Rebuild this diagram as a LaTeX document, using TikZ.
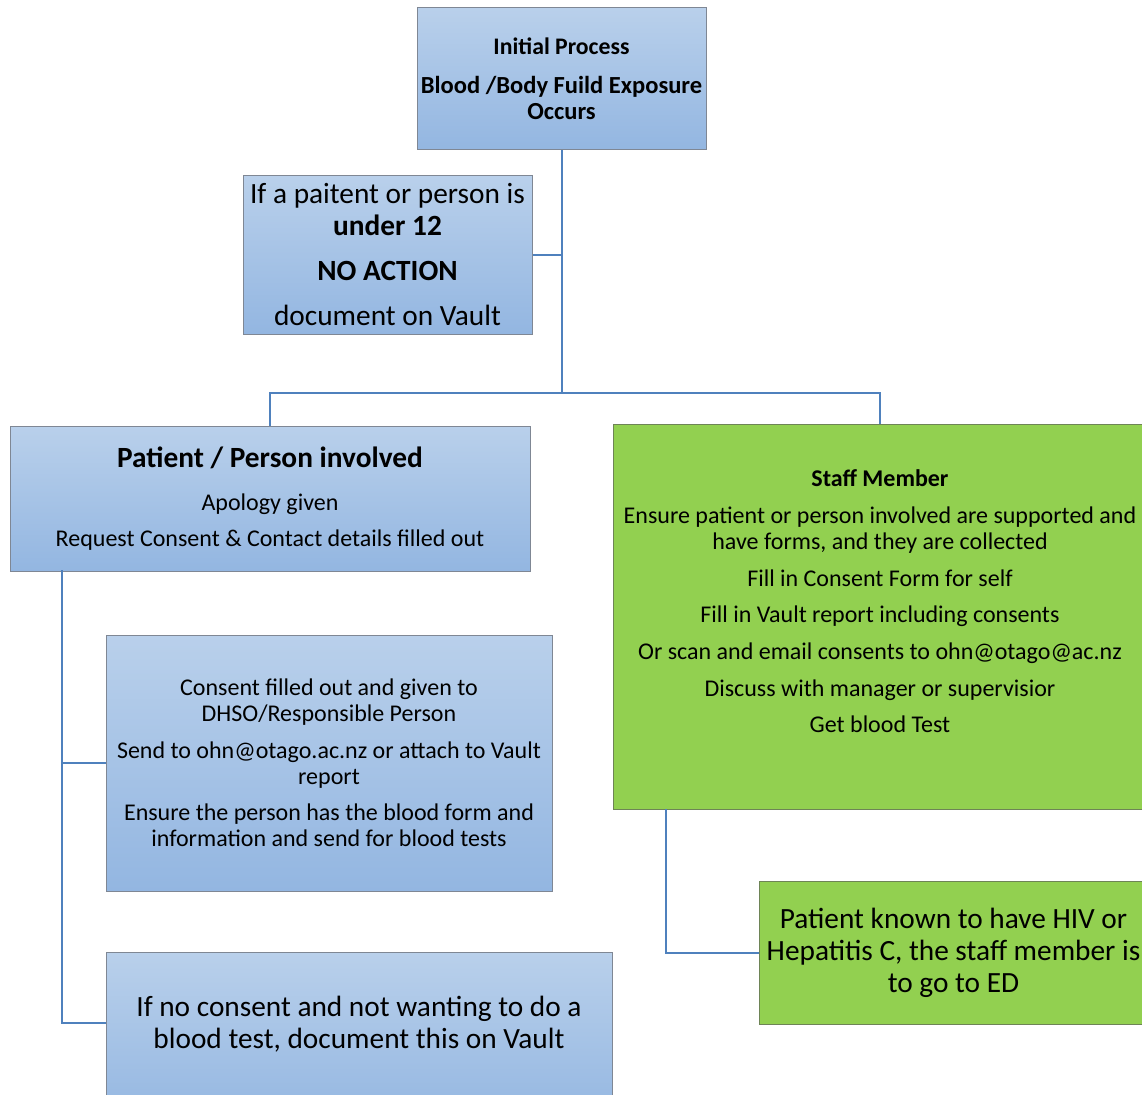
\documentclass[tikz,border=0pt]{standalone}
\usepackage{fontspec}
\setmainfont{Carlito}
\usetikzlibrary{calc}

\definecolor{boxtop}{HTML}{B9D0EB}
\definecolor{boxbot}{HTML}{93B6E1}
\definecolor{boxrim}{HTML}{7F8794}
\definecolor{staffgreen}{HTML}{92D050}
\definecolor{greenrim}{HTML}{6E8456}
\definecolor{linkblue}{HTML}{4F81BD}

\begin{document}
\begin{tikzpicture}[x=0.75pt,y=-0.75pt,
    bluebox/.style={draw=boxrim,line width=0.75pt,top color=boxtop,
      bottom color=boxbot,align=center,inner sep=0pt},
    greenbox/.style={draw=greenrim,line width=0.75pt,fill=staffgreen,
      align=center,inner sep=0pt},
    link/.style={draw=linkblue,line width=1.5pt},
    small/.style={font=\fontsize{18}{19.5}\selectfont},
    big/.style={font=\fontsize{22}{24}\selectfont}]
  \clip (0,0) rectangle (1142,1095);

  \node[bluebox,small,minimum width=216.75pt,minimum height=106.5pt] (init)
    at (561.5,79)
    {\bfseries\fontsize{17.8}{19.5}\selectfont Initial Process\\[9.75pt]
     \bfseries\fontsize{18.4}{19.5}\selectfont Blood /Body Fuild Exposure\\
     \bfseries\fontsize{18.4}{19.5}\selectfont Occurs};

  \node[bluebox,big,minimum width=216.75pt,minimum height=118.5pt] (young)
    at (387.5,255)
    {If a paitent or person is\\
     \bfseries under 12\\[9.75pt]
     \bfseries NO ACTION\\[9.75pt]
     document on Vault};

  \node[bluebox,small,minimum width=390pt,minimum height=108.75pt] (patient)
    at (270,498.5)
    {\bfseries\fontsize{22}{19.5}\selectfont Patient / Person involved\\[13pt]
     Apology given\\[7.5pt]
     Request Consent \& Contact details filled out};

  \node[greenbox,small,minimum width=400.5pt,minimum height=288.75pt] (staff)
    at (880,616.5)
    {\bfseries Staff Member\\[8pt]
     Ensure patient or person involved are supported and\\
     have forms, and they are collected\\[8pt]
     Fill in Consent Form for self\\[8pt]
     Fill in Vault report including consents\\[8pt]
     Or scan and email consents to ohn@otago@ac.nz\\[8pt]
     Discuss with manager or supervisior\\[8pt]
     Get blood Test\\[3pt]
     ~};

  \node[bluebox,small,minimum width=334.5pt,minimum height=192pt] (consent)
    at (329,763)
    {Consent filled out and given to\\
     DHSO/Responsible Person\\[8pt]
     Send to ohn@otago.ac.nz or attach to Vault\\
     report\\[8pt]
     Ensure the person has the blood form and\\
     information and send for blood tests};

  \node[bluebox,big,minimum width=379.5pt,minimum height=130pt] (refuse)
    at (359,1038.7)
    {If no consent and not wanting to do a\\
     blood test, document this on Vault\\
     ~};

  \node[greenbox,big,minimum width=291.75pt,minimum height=107.25pt] (hiv)
    at (953.5,952.5)
    {Patient known to have HIV or\\
     Hepatitis C, the staff member is\\
     to go to ED};

  % init -> split
  \coordinate (split) at (init.south |- 0,393);
  \draw[link] (init.south) -- (split);
  \draw[link] (young.east) -- (young.east -| init.south);
  \draw[link] (patient.north) |- (split) -| (staff.north);

  % patient -> consent / refuse
  \coordinate (lspine) at (62,570);
  \draw[link] (lspine) |- (consent.west);
  \draw[link] (lspine) |- ([yshift=11.75pt]refuse.west);

  % staff -> hiv
  \coordinate (rspine) at (666,809);
  \draw[link] (rspine) |- (hiv.west);
\end{tikzpicture}
\end{document}
